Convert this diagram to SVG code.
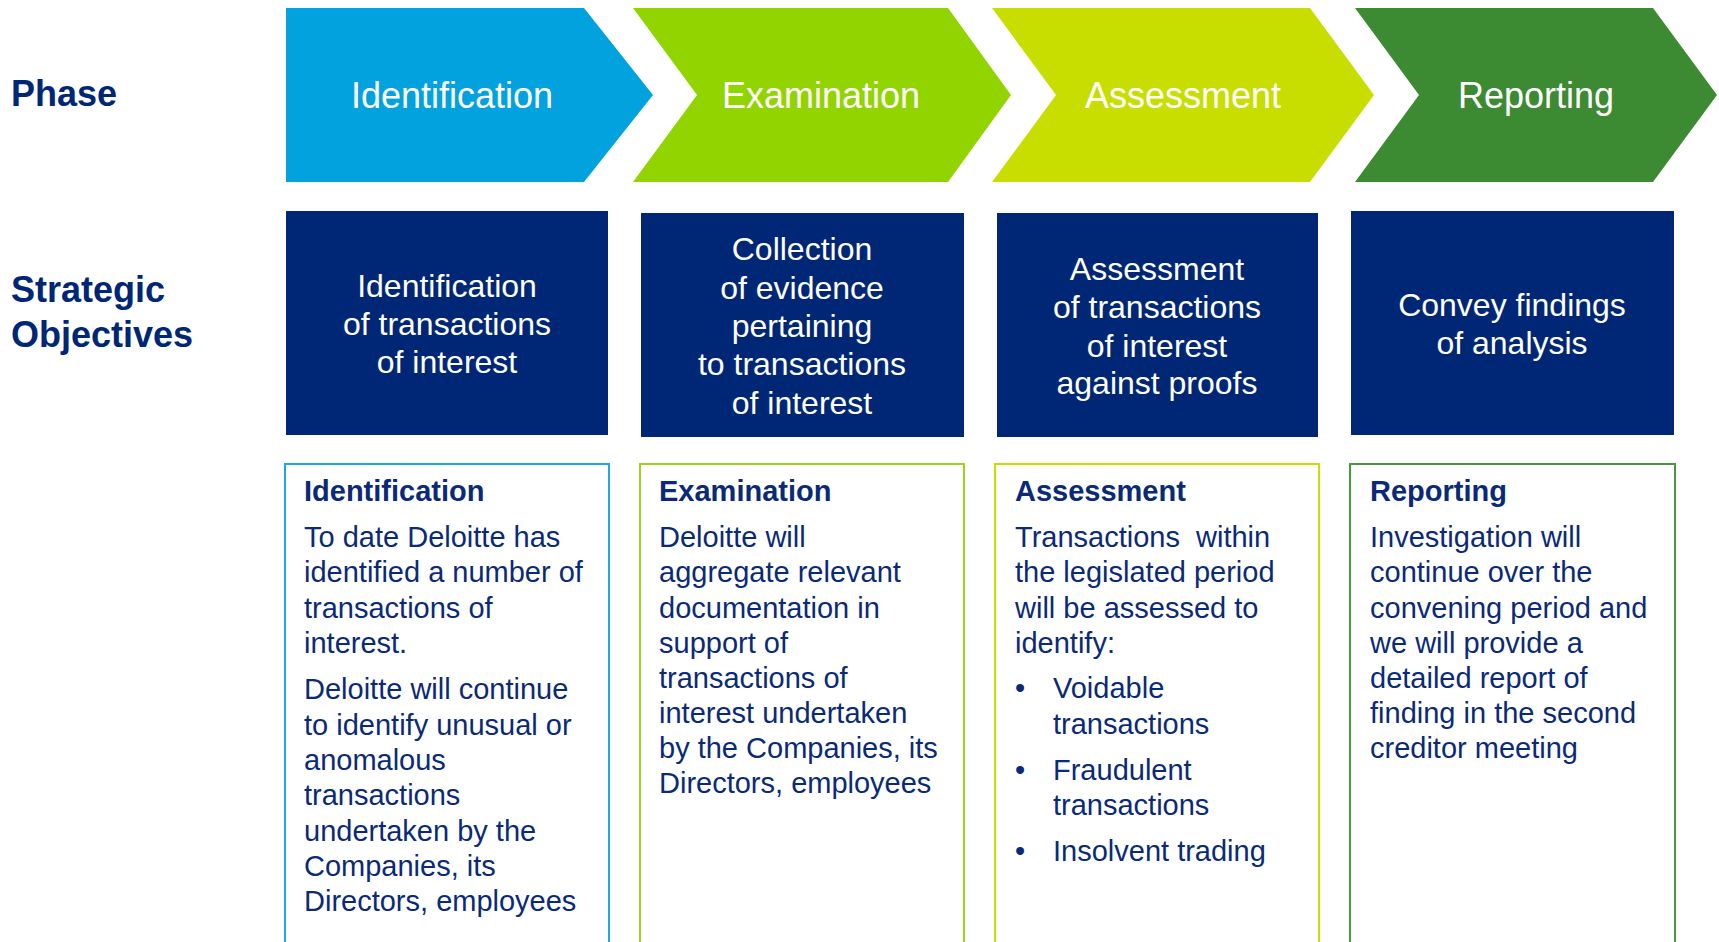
<svg xmlns="http://www.w3.org/2000/svg" width="1719" height="942" viewBox="0 0 1719 942">
<style>
text{font-family:"Liberation Sans",Arial,sans-serif}
.rowlbl{font-size:36px;font-weight:bold;fill:#002776}
.chev{font-size:36px;fill:#ffffff;text-anchor:middle}
.obj{fill:#002776}
.objt{font-size:32px;fill:#ffffff;text-anchor:middle}
.card{fill:none;stroke-width:2}
.ct{font-size:29px;font-weight:bold;fill:#0a2a78}
.cb{font-size:29px;fill:#0a2a78}
</style>
<rect width="1719" height="942" fill="#ffffff"/>
<g id="row-labels">
<text class="rowlbl" x="11" y="106">Phase</text>
<text class="rowlbl" x="11" y="302">Strategic</text>
<text class="rowlbl" x="11" y="347">Objectives</text>
</g>
<g id="phase-identification">
<polygon points="286,8 584,8 653,95 584,182 286,182" fill="#02A2DF"/>
<text class="chev" x="452" y="108">Identification</text>
</g>
<g id="phase-examination">
<polygon points="633,8 948,8 1011,95 948,182 633,182 697,95" fill="#92D400"/>
<text class="chev" x="821" y="108">Examination</text>
</g>
<g id="phase-assessment">
<polygon points="992,8 1310,8 1374,95 1310,182 992,182 1056,95" fill="#C8DE00"/>
<text class="chev" x="1183" y="108">Assessment</text>
</g>
<g id="phase-reporting">
<polygon points="1355,8 1653,8 1717,95 1653,182 1355,182 1419,95" fill="#3C8A31"/>
<text class="chev" x="1536" y="108">Reporting</text>
</g>
<g id="objective-identification">
<rect class="obj" x="286" y="211" width="322" height="224"/>
<text class="objt" x="447" y="297">Identification</text>
<text class="objt" x="447" y="335">of transactions</text>
<text class="objt" x="447" y="373">of interest</text>
</g>
<g id="objective-examination">
<rect class="obj" x="641" y="213" width="323" height="224"/>
<text class="objt" x="802" y="260">Collection</text>
<text class="objt" x="802" y="298.5">of evidence</text>
<text class="objt" x="802" y="337">pertaining</text>
<text class="objt" x="802" y="375">to transactions</text>
<text class="objt" x="802" y="413.5">of interest</text>
</g>
<g id="objective-assessment">
<rect class="obj" x="997" y="213" width="321" height="224"/>
<text class="objt" x="1157" y="280">Assessment</text>
<text class="objt" x="1157" y="318">of transactions</text>
<text class="objt" x="1157" y="356.5">of interest</text>
<text class="objt" x="1157" y="394">against proofs</text>
</g>
<g id="objective-reporting">
<rect class="obj" x="1351" y="211" width="323" height="224"/>
<text class="objt" x="1512" y="316">Convey findings</text>
<text class="objt" x="1512" y="354">of analysis</text>
</g>
<g id="detail-identification">
<path class="card" d="M285,943 V464 H609 V943" stroke="#1FA8E0"/>
<text class="ct" x="304" y="501">Identification</text>
<text class="cb" x="304" y="547">To date Deloitte has</text>
<text class="cb" x="304" y="582">identified a number of</text>
<text class="cb" x="304" y="617.5">transactions of</text>
<text class="cb" x="304" y="653">interest.</text>
<text class="cb" x="304" y="699">Deloitte will continue</text>
<text class="cb" x="304" y="734.5">to identify unusual or</text>
<text class="cb" x="304" y="770">anomalous</text>
<text class="cb" x="304" y="805">transactions</text>
<text class="cb" x="304" y="840.5">undertaken by the</text>
<text class="cb" x="304" y="875.5">Companies, its</text>
<text class="cb" x="304" y="910.5">Directors, employees</text>
</g>
<g id="detail-examination">
<path class="card" d="M640,943 V464 H964 V943" stroke="#9AD51C"/>
<text class="ct" x="659" y="501">Examination</text>
<text class="cb" x="659" y="547">Deloitte will</text>
<text class="cb" x="659" y="582">aggregate relevant</text>
<text class="cb" x="659" y="617.5">documentation in</text>
<text class="cb" x="659" y="652.5">support of</text>
<text class="cb" x="659" y="687.5">transactions of</text>
<text class="cb" x="659" y="723">interest undertaken</text>
<text class="cb" x="659" y="758">by the Companies, its</text>
<text class="cb" x="659" y="793">Directors, employees</text>
</g>
<g id="detail-assessment">
<path class="card" d="M995,943 V464 H1319 V943" stroke="#C8DE00"/>
<text class="ct" x="1015" y="501">Assessment</text>
<text class="cb" x="1015" y="547" xml:space="preserve">Transactions  within</text>
<text class="cb" x="1015" y="582">the legislated period</text>
<text class="cb" x="1015" y="617.5">will be assessed to</text>
<text class="cb" x="1015" y="653">identify:</text>
<text class="cb" x="1015" y="698">•</text>
<text class="cb" x="1053" y="698">Voidable</text>
<text class="cb" x="1053" y="733.5">transactions</text>
<text class="cb" x="1015" y="780">•</text>
<text class="cb" x="1053" y="780">Fraudulent</text>
<text class="cb" x="1053" y="815">transactions</text>
<text class="cb" x="1015" y="861">•</text>
<text class="cb" x="1053" y="861">Insolvent trading</text>
</g>
<g id="detail-reporting">
<path class="card" d="M1350,943 V464 H1675 V943" stroke="#4A983D"/>
<text class="ct" x="1370" y="501">Reporting</text>
<text class="cb" x="1370" y="547">Investigation will</text>
<text class="cb" x="1370" y="582">continue over the</text>
<text class="cb" x="1370" y="617.5">convening period and</text>
<text class="cb" x="1370" y="653">we will provide a</text>
<text class="cb" x="1370" y="688">detailed report of</text>
<text class="cb" x="1370" y="723">finding in the second</text>
<text class="cb" x="1370" y="758">creditor meeting</text>
</g>
</svg>
